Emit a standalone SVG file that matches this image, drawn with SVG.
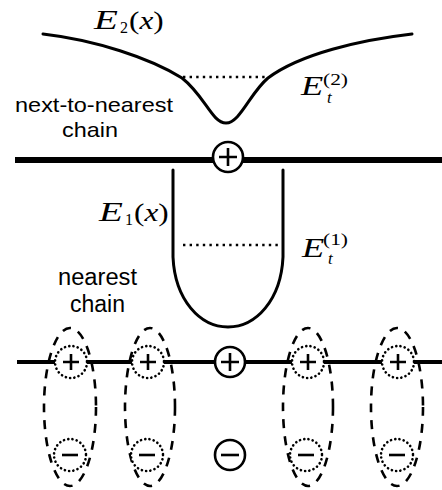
<svg xmlns="http://www.w3.org/2000/svg" width="442" height="490" viewBox="0 0 442 490">
<style>
.curve{fill:none;stroke:#000;stroke-width:3;stroke-linecap:round;stroke-linejoin:round}
.dotline{fill:none;stroke:#000;stroke-width:2.6;stroke-dasharray:2.4 4.2}
.chain{stroke:#000;fill:none}
.ion{fill:#fff;stroke:#000;stroke-width:2.6}
.dotion{fill:#fff;stroke:#000;stroke-width:2.6;stroke-dasharray:0.1 4.2;stroke-linecap:round}
.sign{stroke:#000;stroke-width:2.6;fill:none}
.ell{fill:none;stroke:#000;stroke-width:2.6;stroke-dasharray:9 8}
.sans{font-family:"Liberation Sans",Arial,sans-serif;fill:#000}
.serif{font-family:"Liberation Serif","Times New Roman",serif;fill:#000}
.it{font-style:italic}
</style>
<rect width="442" height="490" fill="#fff"/>

<g id="connectors">
  <line class="chain" x1="15" y1="160" x2="442" y2="160" stroke-width="6"/>
  <line class="chain" x1="17" y1="362" x2="442" y2="362" stroke-width="4"/>
</g>

<g id="E2-curve">
  <path class="curve" d="M43,34 C95,40 150,58 182,78 C205,96 212,123 226,123 C240,123 250,93 268,78 C300,54 360,40 412,34"/>
  <line class="dotline" x1="183" y1="77" x2="268" y2="77"/>
  <text class="serif it" font-size="27" transform="translate(94,29) scale(1.45,1)">E</text>
  <text class="serif" font-size="16" x="120" y="33">2</text>
  <text class="serif" font-size="26" transform="translate(129,29) scale(1.2,1)">(<tspan class="it">x</tspan>)</text>
  <text class="serif it" font-size="27" transform="translate(301,95) scale(1.35,1)">E</text>
  <text class="serif it" font-size="17" x="327" y="103">t</text>
  <text class="serif" font-size="17" x="323" y="85" textLength="25" lengthAdjust="spacingAndGlyphs">(2)</text>
</g>

<g id="label-next">
  <text class="sans" font-size="21" x="15" y="112" textLength="158" lengthAdjust="spacingAndGlyphs">next-to-nearest</text>
  <text class="sans" font-size="21" x="62" y="137" textLength="56" lengthAdjust="spacingAndGlyphs">chain</text>
</g>

<g id="ion-top">
  <circle class="ion" cx="228" cy="157" r="15"/>
  <path class="sign" d="M219,157 H237 M228,148 V166"/>
</g>

<g id="E1-well">
  <path class="curve" d="M173,170 L173,257 C175,300 200,327 228,327 C256,327 281,300 283,257 L283,170"/>
  <line class="dotline" x1="183" y1="245" x2="278" y2="245"/>
  <text class="serif it" font-size="27" transform="translate(99,221) scale(1.45,1)">E</text>
  <text class="serif" font-size="16" x="125" y="225">1</text>
  <text class="serif" font-size="26" transform="translate(134,221) scale(1.2,1)">(<tspan class="it">x</tspan>)</text>
  <text class="serif it" font-size="27" transform="translate(302,257) scale(1.35,1)">E</text>
  <text class="serif it" font-size="17" x="328" y="264">t</text>
  <text class="serif" font-size="17" x="323" y="245" textLength="25" lengthAdjust="spacingAndGlyphs">(1)</text>
</g>

<g id="label-nearest">
  <text class="sans" font-size="23" x="58" y="285" textLength="79" lengthAdjust="spacingAndGlyphs">nearest</text>
  <text class="sans" font-size="23" x="70" y="312" textLength="55" lengthAdjust="spacingAndGlyphs">chain</text>
</g>

<g id="dipole-1">
  <ellipse class="ell" cx="70" cy="407" rx="26" ry="79"/>
  <circle class="dotion" cx="71" cy="362" r="16"/>
  <path class="sign" d="M63,362 H79 M71,354 V370"/>
  <circle class="dotion" cx="70" cy="455" r="16"/>
  <path class="sign" d="M62,455 H78"/>
</g>

<g id="dipole-2">
  <ellipse class="ell" cx="150" cy="407" rx="25" ry="79"/>
  <circle class="dotion" cx="148" cy="362" r="16"/>
  <path class="sign" d="M140,362 H156 M148,354 V370"/>
  <circle class="dotion" cx="147" cy="455" r="16"/>
  <path class="sign" d="M139,455 H155"/>
</g>

<g id="ion-center-plus">
  <circle class="ion" cx="230" cy="362" r="15"/>
  <path class="sign" d="M221,362 H239 M230,353 V371"/>
</g>

<g id="ion-center-minus">
  <circle class="ion" cx="230" cy="455" r="15"/>
  <path class="sign" d="M221,455 H239"/>
</g>

<g id="dipole-3">
  <ellipse class="ell" cx="308" cy="407" rx="25" ry="79"/>
  <circle class="dotion" cx="308" cy="362" r="16"/>
  <path class="sign" d="M300,362 H316 M308,354 V370"/>
  <circle class="dotion" cx="306" cy="455" r="16"/>
  <path class="sign" d="M298,455 H314"/>
</g>

<g id="dipole-4">
  <ellipse class="ell" cx="397" cy="407" rx="26" ry="79"/>
  <circle class="dotion" cx="398" cy="362" r="16"/>
  <path class="sign" d="M390,362 H406 M398,354 V370"/>
  <circle class="dotion" cx="397" cy="455" r="16"/>
  <path class="sign" d="M389,455 H405"/>
</g>
</svg>
